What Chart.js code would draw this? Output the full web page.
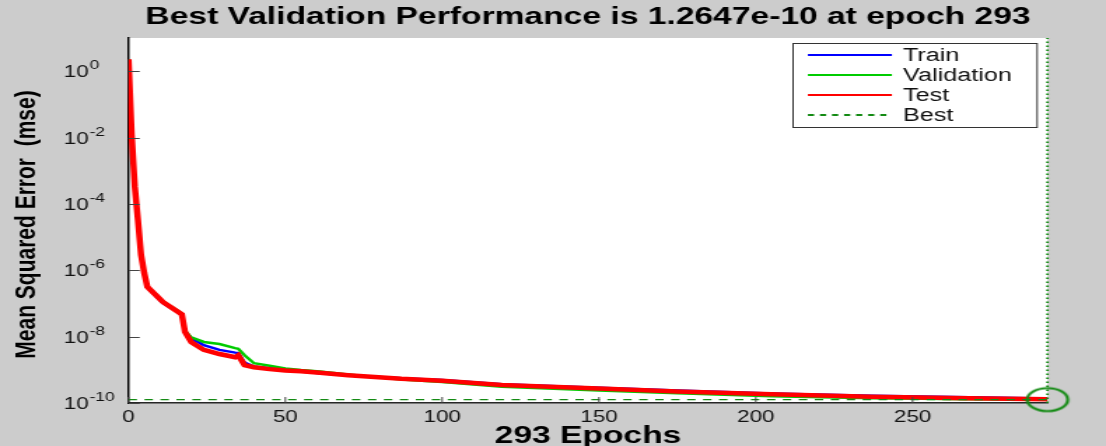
<!DOCTYPE html>
<html>
<head>
<meta charset="utf-8">
<title>Best Validation Performance</title>
<script src="https://cdn.jsdelivr.net/npm/chart.js@4.4.1/dist/chart.umd.min.js"></script>
<style>
  html, body { margin: 0; padding: 0; background: #cccccc; overflow: hidden; }
  /* the figure is drawn narrow and stretched sideways, like the source image */
  #perfChart { display: block; width: 1106px !important; height: 446px !important; }
</style>
</head>
<body>
<canvas id="perfChart" width="790" height="446" style="width:1106px;height:446px"></canvas>
<script>
// ─── TRAINING RECORD: MSE PER EPOCH ──────────────────────────────────────

var epochs        = [0, 1, 2, 3, 4, 5, 6, 11, 17, 18, 20, 24, 29, 34, 35, 37, 40, 45, 50, 55, 61, 70, 87, 100, 119, 150, 175, 205, 237, 268, 293];
var trainMse      = [2.29, 1.2e-2, 3.24e-4, 3.31e-5, 2.88e-6, 8.3e-7, 3.02e-7, 1.02e-7, 4.68e-8, 1.45e-8, 8.9e-9, 5.5e-9, 4.0e-9, 3.3e-9, 3.2e-9, 1.66e-9, 1.26e-9, 1.12e-9, 1.0e-9, 8.9e-10, 7.9e-10, 6.9e-10, 5.6e-10, 4.9e-10, 3.7e-10, 2.9e-10, 2.4e-10, 1.95e-10, 1.66e-10, 1.48e-10, 1.36e-10];
var validationMse = [2.29, 1.17e-2, 3.39e-4, 3.39e-5, 2.82e-6, 7.9e-7, 3.31e-7, 1.15e-7, 5.0e-8, 1.51e-8, 9.5e-9, 6.9e-9, 6.0e-9, 4.5e-9, 4.3e-9, 2.75e-9, 1.58e-9, 1.32e-9, 1.10e-9, 9.8e-10, 8.9e-10, 7.2e-10, 5.1e-10, 4.3e-10, 3.1e-10, 2.4e-10, 1.95e-10, 1.6e-10, 1.4e-10, 1.3e-10, 1.2647e-10];
var testMse       = [2.29, 1.2e-2, 3.24e-4, 3.31e-5, 2.88e-6, 8.3e-7, 3.16e-7, 1.10e-7, 4.68e-8, 1.38e-8, 6.8e-9, 4.0e-9, 3.0e-9, 2.4e-9, 2.75e-9, 1.38e-9, 1.2e-9, 1.05e-9, 9.5e-10, 9.1e-10, 8.1e-10, 6.9e-10, 5.4e-10, 4.7e-10, 3.5e-10, 2.75e-10, 2.24e-10, 1.82e-10, 1.55e-10, 1.38e-10, 1.29e-10];

var bestEpoch = 293;
var bestPerf  = 1.2647e-10;

var xRange = [0, 293];
var yRange = [1e-10, 10];
var xTicks = [0, 50, 100, 150, 200, 250];
var yTicks = [1e-10, 1e-8, 1e-6, 1e-4, 1e-2, 1];
var yTickExponents = ['-10', '-8', '-6', '-4', '-2', '0'];

var FONT = '"Liberation Sans", Arial, sans-serif';

function toPoints(values) {
  return values.map(function(v, i) { return { x: epochs[i], y: v }; });
}

// ellipse used as the marker for the best epoch
function makeRing(w, h, color, lw) {
  var c = document.createElement('canvas');
  c.width = Math.ceil(w + lw * 2);
  c.height = Math.ceil(h + lw * 2);
  var g = c.getContext('2d');
  g.strokeStyle = color;
  g.lineWidth = lw;
  g.beginPath();
  g.ellipse(c.width / 2, c.height / 2, w / 2, h / 2, 0, 0, Math.PI * 2);
  g.stroke();
  return c;
}

// ── figure chrome: grey figure, white axes, inward ticks, texts, legend ──
var figurePlugin = {
  id: 'figure',
  beforeDraw: function(chart) {
    var ctx = chart.ctx, a = chart.chartArea;
    ctx.save();
    ctx.fillStyle = '#cccccc';
    ctx.fillRect(0, 0, chart.width, chart.height);
    ctx.fillStyle = '#ffffff';
    ctx.fillRect(a.left, a.top, a.right - a.left, a.bottom - a.top);
    ctx.restore();
  },
  afterDraw: function(chart) {
    var ctx = chart.ctx, a = chart.chartArea;
    var xs = chart.scales.x, ys = chart.scales.y;
    ctx.save();

    // inward tick marks
    ctx.strokeStyle = '#444';
    ctx.lineWidth = 1;
    yTicks.forEach(function(v) {
      var y = Math.round(ys.getPixelForValue(v)) + 0.5;
      ctx.beginPath(); ctx.moveTo(a.left, y); ctx.lineTo(a.left + 8, y); ctx.stroke();
    });
    xTicks.forEach(function(v) {
      var x = xs.getPixelForValue(v);
      ctx.beginPath(); ctx.moveTo(x, a.bottom); ctx.lineTo(x, a.bottom - 6); ctx.stroke();
    });

    // y tick labels as 10 with a raised exponent
    ctx.fillStyle = '#111';
    ctx.textAlign = 'left';
    ctx.textBaseline = 'alphabetic';
    yTicks.forEach(function(v, i) {
      var y = ys.getPixelForValue(v);
      ctx.font = '16px ' + FONT;
      ctx.fillText('10', 45.6, y + 6);
      var w = ctx.measureText('10').width;
      ctx.font = '12.5px ' + FONT;
      ctx.fillText(yTickExponents[i], 45.6 + w + 0.5, y - 2);
    });

    // titles
    var cx = (a.left + a.right) / 2;
    ctx.fillStyle = '#000';
    ctx.textAlign = 'center';
    ctx.textBaseline = 'middle';
    ctx.font = 'bold 24px ' + FONT;
    ctx.fillText('Best Validation Performance is ' + bestPerf.toExponential(4) + ' at epoch ' + bestEpoch, cx, 17);
    ctx.fillText(bestEpoch + ' Epochs', cx, 436);
    ctx.save();
    ctx.translate(19.3, (a.top + a.bottom) / 2 + 4);
    ctx.rotate(-Math.PI / 2);
    ctx.font = 'bold 21px ' + FONT;
    ctx.fillText('Mean Squared Error  (mse)', 0, 0);
    ctx.restore();

    // legend box, top right inside the axes
    var items = chart.data.datasets.filter(function(d) { return d.inLegend; });
    var boxW = 174.3, boxH = 84;
    var bx = a.right - 8.2 - boxW, by = a.top + 5;
    ctx.fillStyle = '#fff';
    ctx.fillRect(bx, by, boxW, boxH);
    ctx.strokeStyle = '#333';
    ctx.lineWidth = 1;
    ctx.strokeRect(Math.round(bx) + 0.5, by + 0.5, boxW, boxH);
    items.forEach(function(d, i) {
      var y = by + 12 + i * 20;
      ctx.strokeStyle = d.borderColor;
      ctx.lineWidth = 2;
      ctx.setLineDash(d.borderDash ? [4.4, 4.2] : []);
      ctx.beginPath(); ctx.moveTo(bx + 11.4, y); ctx.lineTo(bx + 71.4, y); ctx.stroke();
      ctx.setLineDash([]);
      ctx.fillStyle = '#111';
      ctx.textAlign = 'left';
      ctx.font = '18px ' + FONT;
      ctx.fillText(d.label, bx + 79.3, y + 1);
    });

    ctx.restore();
  }
};

new Chart(document.getElementById('perfChart'), {
  type: 'line',
  data: {
    datasets: [
      { label: 'Train', data: toPoints(trainMse), borderColor: '#0000ff', borderWidth: 2.5, order: 5, inLegend: true },
      { label: 'Validation', data: toPoints(validationMse), borderColor: '#00cc00', borderWidth: 2.5, order: 4, inLegend: true },
      { label: 'Test', data: toPoints(testMse), borderColor: '#ff0000', borderWidth: 4.5, order: 3, inLegend: true },
      { label: 'Best', data: [{ x: xRange[0], y: bestPerf }, { x: xRange[1], y: bestPerf }],
        borderColor: '#138a13', borderWidth: 1.2, borderDash: [6, 5.4], order: 2, inLegend: true },
      { label: 'Best epoch', data: [{ x: bestEpoch, y: yRange[0] }, { x: bestEpoch, y: yRange[1] }],
        borderColor: '#138a13', borderWidth: 1.8, borderDash: [1.6, 2.4], clip: false, order: 1 },
      { label: 'Best point', data: [{ x: bestEpoch, y: bestPerf }], showLine: false,
        pointStyle: makeRing(29, 23, '#138a13', 2.2), pointRadius: 14, clip: false, order: 0 }
    ]
  },
  options: {
    responsive: false,
    animation: false,
    events: [],
    layout: { padding: { left: 0, top: 38, right: 41.8, bottom: 0 } },
    elements: { point: { radius: 0 }, line: { tension: 0, fill: false, borderJoinStyle: 'miter' } },
    plugins: { legend: { display: false }, title: { display: false }, tooltip: { enabled: false } },
    scales: {
      x: {
        type: 'linear', min: xRange[0], max: xRange[1],
        grid: { display: false, drawTicks: false },
        border: { display: true, color: '#262626', width: 1.5 },
        ticks: { color: '#111', font: { family: FONT, size: 16 }, padding: 5, maxRotation: 0, autoSkip: false,
                 callback: function(v) { return String(v); } },
        afterBuildTicks: function(s) { s.ticks = xTicks.map(function(v) { return { value: v }; }); },
        afterFit: function(s) { s.height = 43; }
      },
      y: {
        type: 'logarithmic', min: yRange[0], max: yRange[1],
        grid: { display: false, drawTicks: false },
        border: { display: true, color: '#000', width: 1.5 },
        ticks: { display: false },
        afterBuildTicks: function(s) { s.ticks = yTicks.map(function(v) { return { value: v }; }); },
        afterFit: function(s) { s.width = 91.8; }
      }
    }
  },
  plugins: [figurePlugin]
});
</script>
</body>
</html>
